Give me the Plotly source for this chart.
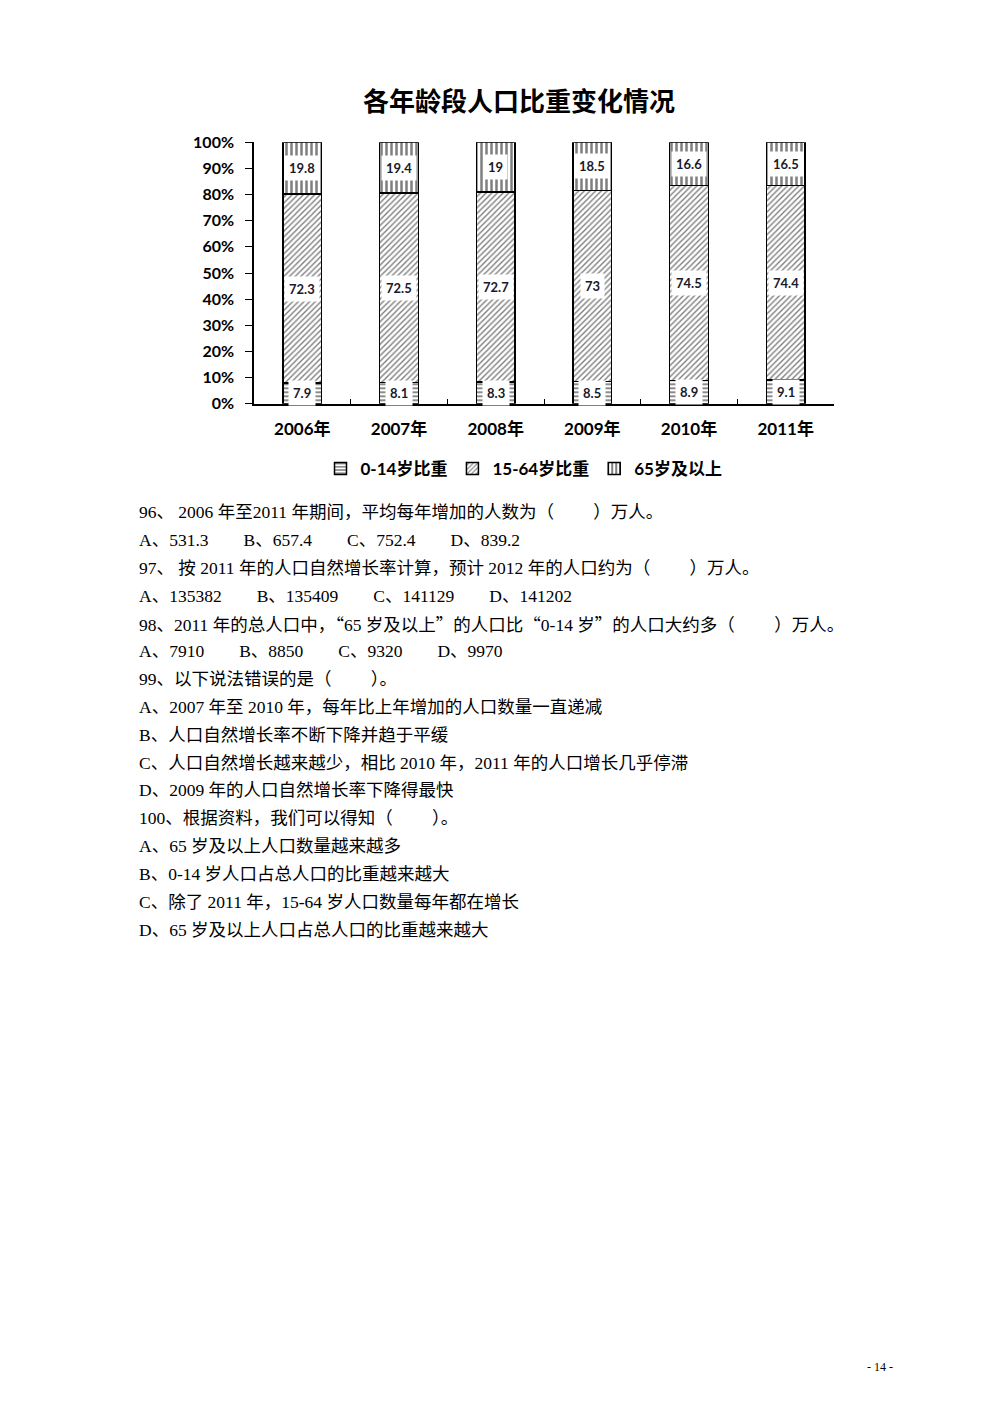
import plotly.graph_objects as go

# 图表数据
years = ["2006年", "2007年", "2008年", "2009年", "2010年", "2011年"]
age_0_14 = [7.9, 8.1, 8.3, 8.5, 8.9, 9.1]
age_15_64 = [72.3, 72.5, 72.7, 73, 74.5, 74.4]
age_65_up = [19.8, 19.4, 19, 18.5, 16.6, 16.5]
series_names = ["0-14岁比重", "15-64岁比重", "65岁及以上"]
y_ticks = [0, 10, 20, 30, 40, 50, 60, 70, 80, 90, 100]

# 题目文字
Q = "<span style=\"font-family:'Noto Sans CJK SC'\">{}</span>"
P = "（　　 ）"
G = "　　"
question_lines = [
    "96、 2006 年至2011 年期间，平均每年增加的人数为" + P + "万人。",
    "A、531.3" + G + "B、657.4" + G + "C、752.4" + G + "D、839.2",
    "97、 按 2011 年的人口自然增长率计算，预计 2012 年的人口约为" + P + "万人。",
    "A、135382" + G + "B、135409" + G + "C、141129" + G + "D、141202",
    "98、2011 年的总人口中，" + Q.format("“") + "65 岁及以上" + Q.format("”") + "的人口比"
    + Q.format("“") + "0-14 岁" + Q.format("”") + "的人口大约多" + P + "万人。",
    "A、7910" + G + "B、8850" + G + "C、9320" + G + "D、9970",
    "99、以下说法错误的是" + P + "。",
    "A、2007 年至 2010 年，每年比上年增加的人口数量一直递减",
    "B、人口自然增长率不断下降并趋于平缓",
    "C、人口自然增长越来越少，相比 2010 年，2011 年的人口增长几乎停滞",
    "D、2009 年的人口自然增长率下降得最快",
    "100、根据资料，我们可以得知" + P + "。",
    "A、65 岁及以上人口数量越来越多",
    "B、0-14 岁人口占总人口的比重越来越大",
    "C、除了 2011 年，15-64 岁人口数量每年都在增长",
    "D、65 岁及以上人口占总人口的比重越来越大",
]

H = 1414
chart_font = "Lato, 'Noto Sans CJK SC', sans-serif"
body_font = "'Liberation Serif', 'Noto Sans CJK SC', serif"


def py(px):
    return 1 - px / H


fig = go.Figure()

patterns = [
    dict(shape="-", size=4, solidity=0.45, fgcolor="black", bgcolor="white"),
    dict(shape="/", size=4, solidity=0.35, fgcolor="black", bgcolor="white"),
    dict(shape="|", size=5, solidity=0.5, fgcolor="black", bgcolor="white"),
]
all_series = [age_0_14, age_15_64, age_65_up]

for name, vals, pat in zip(series_names, all_series, patterns):
    fig.add_trace(go.Bar(
        x=years, y=vals, name=f"<b>{name}</b>", width=0.4,
        marker=dict(color="white", line=dict(color="black", width=1.5), pattern=pat),
        hoverinfo="skip",
    ))

# 数据标签（白底）
annotations = []
base = [0] * len(years)
for vals in all_series:
    for i, v in enumerate(vals):
        annotations.append(dict(
            x=years[i], y=base[i] + v / 2, xref="x", yref="y",
            text=f"<b>{v:g}</b>", showarrow=False,
            font=dict(family=chart_font, size=13, color="#1a1a2a"),
            bgcolor="white", borderpad=4,
        ))
        base[i] += v

# 题目
for k, line in enumerate(question_lines):
    annotations.append(dict(
        x=129 / 1000, y=py(501 + 28.2 * k), xref="paper", yref="paper",
        xanchor="left", yanchor="middle", text=line, showarrow=False,
        font=dict(family=body_font, size=17.5, color="black"),
    ))

# 页码
annotations.append(dict(
    x=887 / 1000, y=py(1376), xref="paper", yref="paper",
    text="- 14 -", showarrow=False,
    font=dict(family=body_font, size=12, color="black"),
))

fig.update_layout(
    width=1000, height=H,
    margin=dict(l=0, r=0, t=0, b=0),
    paper_bgcolor="white", plot_bgcolor="white",
    barmode="stack",
    showlegend=True,
    title=dict(text="<b>各年龄段人口比重变化情况</b>", x=0.511, xanchor="center",
               y=py(94), yanchor="middle",
               font=dict(family="'Noto Sans CJK SC', sans-serif", size=26, color="black")),
    xaxis=dict(
        domain=[0.246, 0.826], showline=True, linecolor="black", linewidth=1.5,
        ticks="inside", tickson="boundaries", ticklen=5, tickcolor="black",
        tickvals=years, ticktext=[f"<b>{y}</b>" for y in years],
        tickfont=dict(family=chart_font, size=17, color="black"),
        ticklabelstandoff=9,
        showgrid=False, fixedrange=True,
    ),
    yaxis=dict(
        domain=[py(391), py(126)], range=[0, 100],
        tickvals=y_ticks, ticktext=[f"<b>{t}%</b>" for t in y_ticks],
        showline=True, linecolor="black", linewidth=1.5,
        ticks="outside", ticklen=7, tickcolor="black",
        tickfont=dict(family=chart_font, size=16, color="black"),
        ticklabelstandoff=8,
        showgrid=False, zeroline=False,
    ),
    legend=dict(
        orientation="h", x=0.516, xanchor="center", y=py(457), yanchor="middle",
        font=dict(family=chart_font, size=17, color="black"),
        itemwidth=30, traceorder="normal",
    ),
    annotations=annotations,
)

fig.write_html("out.html")
